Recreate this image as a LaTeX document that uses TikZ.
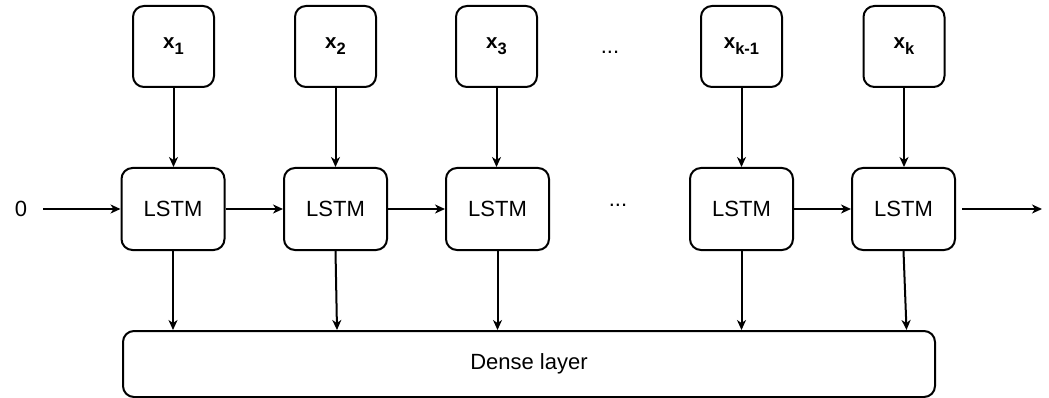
\documentclass[tikz,border=0pt]{standalone}
\usepackage{fontspec}
\setmainfont{Liberation Sans}
\usetikzlibrary{arrows.meta}
\begin{document}
\begin{tikzpicture}[x=1pt,y=-1pt,
  line width=2pt,
  box/.style={draw, rounded corners=11pt, inner sep=0pt, align=center},
  inbox/.style={box, minimum width=81pt, minimum height=81pt,
                font=\fontsize{20.5}{24}\selectfont\bfseries},
  cell/.style={box, minimum width=103pt, minimum height=82pt,
               font=\fontsize{22}{26}\selectfont},
  plain/.style={inner sep=0pt, font=\fontsize{22}{26}\selectfont},
  arr/.style={-{Stealth[length=10pt,width=9pt,inset=3pt]}},
]
\useasboundingbox (0,0) rectangle (1049,398);

\newcommand{\sub}[1]{\raisebox{-6pt}{\fontsize{16.5}{17}\selectfont #1}}

% input boxes
\node[inbox] (x1) at (173.5,46.5) {x\sub{1}};
\node[inbox] (x2) at (335.5,46.5) {x\sub{2}};
\node[inbox] (x3) at (496.5,46.5) {x\sub{3}};
\node[inbox] (x4) at (741.5,46.5) {x\sub{k-1}};
\node[inbox] (x5) at (904,46.5) {x\sub{k}};

% LSTM cells
\node[cell] (l1) at (173,209) {LSTM};
\node[cell] (l2) at (335.5,209) {LSTM};
\node[cell] (l3) at (497.5,209) {LSTM};
\node[cell] (l4) at (741.5,209) {LSTM};
\node[cell] (l5) at (903.5,209) {LSTM};

% dense layer
\node[box, minimum width=812pt, minimum height=66pt,
      font=\fontsize{22}{26}\selectfont] (d) at (529,364) {Dense layer};

% initial state and output
\node[plain] (zero) at (21,209) {0};
\coordinate (out) at (1042,209);
\node[plain] (dt) at (610,52) {...};
\node[plain] (db) at (618,205) {...};

% inputs into cells
\foreach \i in {1,...,5} {
  \draw[arr] (x\i.south) -- (x\i.south |- l\i.north);
}

% recurrent connections
\draw[arr] (zero.east) ++(15pt,0) -- (l1.west);
\draw[arr] (l1.east) -- (l2.west);
\draw[arr] (l2.east) -- (l3.west);
\draw[arr] (l4.east) -- (l5.west);
\draw[arr] ([xshift=6pt]l5.east) -- (out);

% cells into dense layer
\draw[arr] (l1.south) -- (l1.south |- d.north);
\draw[arr] (l2.south) -- ([xshift=1.5pt]l2.south |- d.north);
\draw[arr] (l3.south) -- (l3.south |- d.north);
\draw[arr] (l4.south) -- (l4.south |- d.north);
\draw[arr] (l5.south) -- ([xshift=3pt]l5.south |- d.north);
\end{tikzpicture}
\end{document}
